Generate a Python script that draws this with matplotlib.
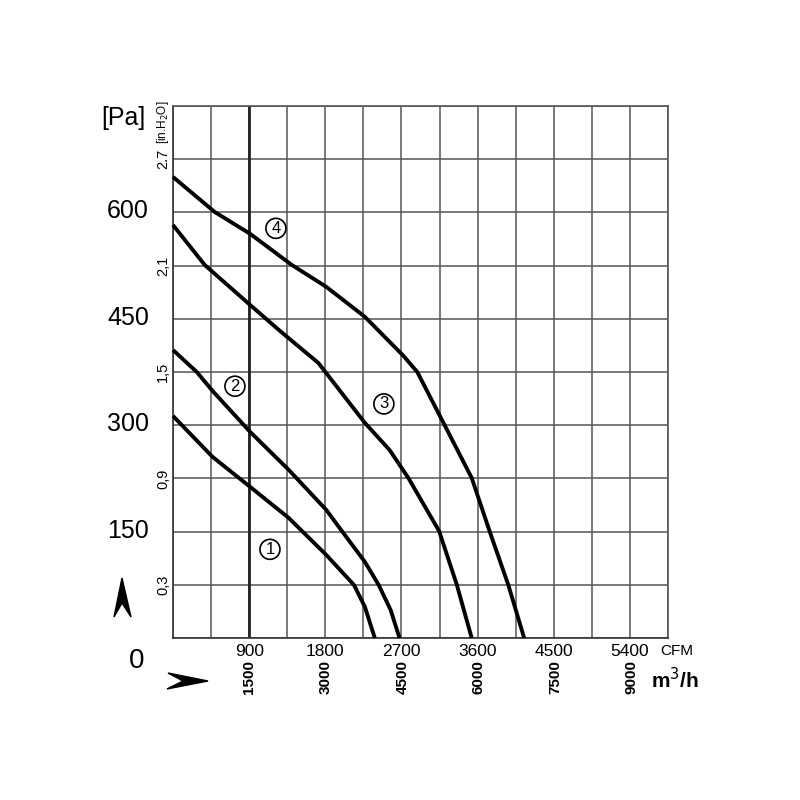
import numpy as np
import matplotlib.pyplot as plt
from matplotlib.patches import Polygon

plt.rcParams['font.family'] = ['Liberation Sans', 'DejaVu Sans']

PA_PER_INH2O = 249.0
M3H_PER_CFM = 1.66  # m3/h scale as printed under the CFM scale

# fan curves: flow in CFM, pressure in in.H2O
curve1_cfm = [0, 468, 912, 1368, 1812, 2139, 2268, 2385]
curve1_inh2o = [1.252, 1.021, 0.852, 0.677, 0.468, 0.299, 0.175, 0.0]

curve2_cfm = [0, 281, 468, 912, 1368, 1812, 1987, 2268, 2431, 2572, 2677]
curve2_inh2o = [1.624, 1.500, 1.393, 1.162, 0.948, 0.722, 0.609, 0.429, 0.299, 0.158, 0.0]

curve3_cfm = [0, 374, 912, 1251, 1718, 2268, 2560, 2782, 3145, 3355, 3530]
curve3_inh2o = [2.329, 2.104, 1.878, 1.737, 1.551, 1.213, 1.060, 0.902, 0.603, 0.299, 0.0]

curve4_cfm = [0, 491, 912, 1403, 1812, 2268, 2724, 2887, 3203, 3531, 3741, 3963, 4150]
curve4_inh2o = [2.600, 2.403, 2.279, 2.104, 1.980, 1.811, 1.591, 1.500, 1.207, 0.902, 0.603, 0.299, 0.0]

curve_names = ['1', '2', '3', '4']
label_cfm = [1146, 732, 2492, 1216]
label_inh2o = [0.50, 1.42, 1.32, 2.31]

cfm_ticks = [900, 1800, 2700, 3600, 4500, 5400]
m3h_ticks = [1500, 3000, 4500, 6000, 7500, 9000]
inh2o_ticks = [0.3, 0.9, 1.5, 2.1, 2.7]
inh2o_tick_labels = ['0,3', '0,9', '1,5', '2,1', '2.7']
pa_ticks = [150, 300, 450, 600]

fig = plt.figure(figsize=(8, 8), dpi=100)
ax = fig.add_axes([173 / 800, 1 - 638 / 800, 495 / 800, 532 / 800])

grid_col = '#555555'
ax.set_xlim(0, 5850)
ax.set_ylim(0, 3.0)
ax.set_xticks(cfm_ticks)
ax.set_xticklabels([str(v) for v in cfm_ticks], fontsize=12.5)
ax.set_xticks(np.arange(0, 5851, 450), minor=True)
ax.set_yticks(inh2o_ticks)
ax.set_yticklabels(inh2o_tick_labels, fontsize=10.5, rotation=90, va='center')
ax.set_yticks(np.arange(0, 3.01, 0.3), minor=True)
ax.tick_params(which='both', length=0)
ax.tick_params(axis='x', pad=4)
ax.tick_params(axis='y', pad=2)
ax.grid(which='both', color=grid_col, linewidth=1.1)
ax.axvline(900, color='#222222', linewidth=2.0)
for sp in ax.spines.values():
    sp.set_color(grid_col)
    sp.set_linewidth(1.2)
ax.spines['bottom'].set_color('#333333')
ax.spines['left'].set_color('#333333')

curves = [(curve1_cfm, curve1_inh2o), (curve2_cfm, curve2_inh2o),
          (curve3_cfm, curve3_inh2o), (curve4_cfm, curve4_inh2o)]
for xs, ys in curves:
    ax.plot(xs, ys, color='black', linewidth=2.8, solid_capstyle='butt',
            solid_joinstyle='round', clip_on=False, zorder=3)

for name, x, y in zip(curve_names, label_cfm, label_inh2o):
    ax.text(x, y, name, fontsize=12, ha='center', va='center', zorder=4,
            bbox=dict(boxstyle='circle,pad=0.15', fc='white', ec='black', lw=1.2))

# pressure in Pa, left of the in.H2O scale
ytrans = ax.get_yaxis_transform()
for pa in pa_ticks:
    ax.text(-0.091, pa / PA_PER_INH2O, str(pa), transform=ytrans,
            fontsize=18, ha='center', va='center')
fig.text(137 / 800, 1 - 661 / 800, '0', fontsize=20, ha='center', va='center')
fig.text(123 / 800, 1 - 118 / 800, '[Pa]', fontsize=18, ha='center', va='center')
fig.text(163 / 800, 1 - 122 / 800, '[in.H$_2$O]', fontsize=8.5, rotation=90,
         ha='center', va='center')

# m3/h scale under the CFM scale
xtrans = ax.get_xaxis_transform()
for v in m3h_ticks:
    ax.text(v / M3H_PER_CFM, -0.0735, str(v), transform=xtrans, fontsize=11,
            fontweight='bold', rotation=90, ha='center', va='center')
fig.text(660 / 800, 1 - 651 / 800, 'CFM', fontsize=11, ha='left', va='center')
fig.text(651 / 800, 1 - 680 / 800, 'm$^3$/h', fontsize=15, fontweight='bold',
         ha='left', va='center')

# arrow heads marking the axes
up = [(122, 578), (131, 617), (122, 603), (114, 617)]
right = [(208, 681), (167, 689), (183, 681), (168, 673)]
for pts in (up, right):
    fig.patches.append(Polygon([(x / 800, 1 - y / 800) for x, y in pts],
                               closed=True, fc='black', ec='black',
                               transform=fig.transFigure, figure=fig))

fig.savefig('out.png', dpi=100)
